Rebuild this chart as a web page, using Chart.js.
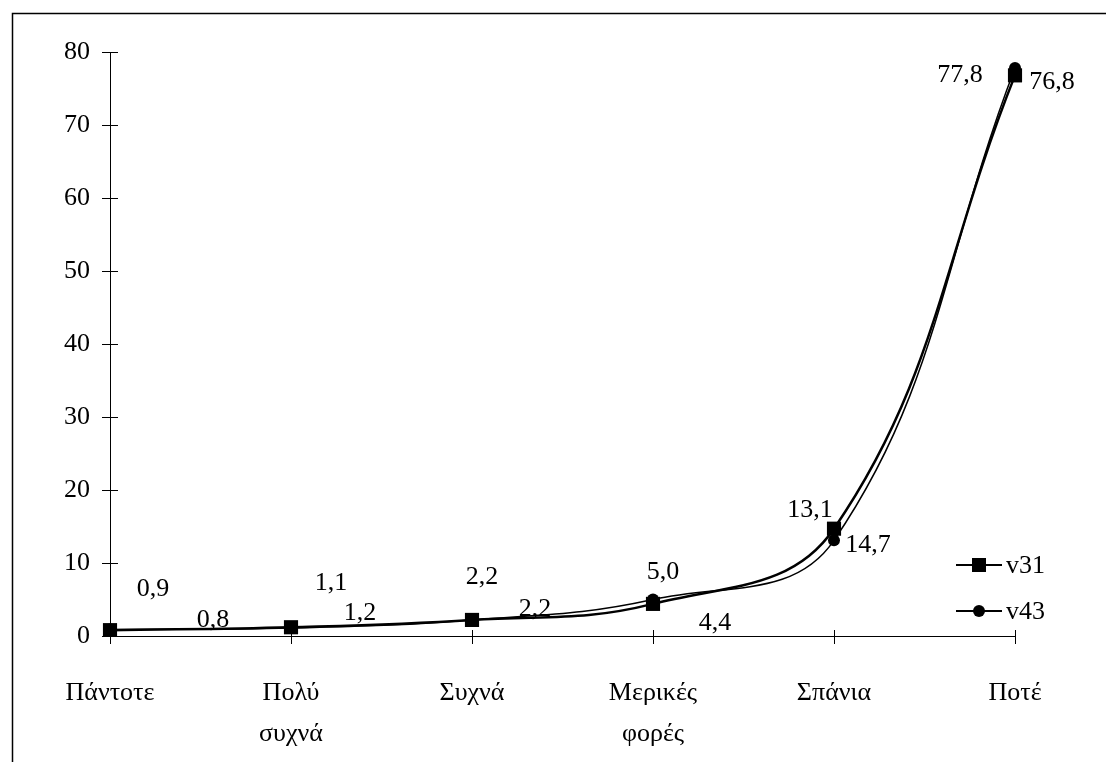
<!DOCTYPE html>
<html><head><meta charset="utf-8">
<script src="https://cdn.jsdelivr.net/npm/chart.js@4/dist/chart.umd.min.js"></script>
<style>html,body{margin:0;padding:0;background:#fff;}#wrap{width:1106px;height:762px;position:relative;}</style>
</head><body><div id="wrap"><canvas id="c" width="1106" height="762"></canvas></div>
<script>
const categories = [['Πάντοτε'], ['Πολύ', 'συχνά'], ['Συχνά'], ['Μερικές', 'φορές'], ['Σπάνια'], ['Ποτέ']];
const seriesNames = ['v31', 'v43'];
const v31 = [0.8, 1.2, 2.2, 4.4, 14.7, 76.8];
const v43 = [0.9, 1.1, 2.2, 5.0, 13.1, 77.8];
const yMin = 0, yMax = 80, yStep = 10;

const FONT = "'Liberation Serif', 'DejaVu Serif', serif";
const fmt = v => v.toFixed(1).replace('.', ',');

// label offsets (pixels) relative to each point — styling only
const labelOffsets = {
  v31: [[103, -10], [69, -14], [63, -11], [62, 19], [34, 16], [37, 7]],
  v43: [[43, -40], [40, -45], [10, -43], [10, -27], [-24, -30], [-55, 7]]
};

const frame = {
  id: 'frame',
  beforeDraw(chart) {
    const ctx = chart.ctx;
    ctx.save();
    ctx.fillStyle = '#fff';
    ctx.fillRect(0, 0, chart.width, chart.height);
    ctx.strokeStyle = '#000';
    ctx.lineWidth = 1.5;
    ctx.strokeRect(12.5, 13.5, 1300, 1000);
    ctx.restore();
  },
  afterDraw(chart) {
    const ctx = chart.ctx;
    const ys = chart.scales.y, xs = chart.scales.x;
    ctx.save();
    ctx.strokeStyle = '#000';
    ctx.lineWidth = 1;
    ys.ticks.forEach((t, i) => {
      const y = Math.round(ys.getPixelForTick(i)) + 0.5;
      ctx.beginPath(); ctx.moveTo(xs.left, y); ctx.lineTo(xs.left + 8, y); ctx.stroke();
    });
    xs.ticks.forEach((t, i) => {
      const x = Math.round(xs.getPixelForTick(i)) + 0.5;
      ctx.beginPath(); ctx.moveTo(x, ys.bottom); ctx.lineTo(x, ys.bottom - 6); ctx.stroke();
    });
    ctx.restore();
  }
};

const dataLabels = {
  id: 'dataLabels',
  afterDatasetsDraw(chart) {
    const ctx = chart.ctx;
    ctx.save();
    ctx.font = "26px " + FONT;
    ctx.fillStyle = '#000';
    ctx.textAlign = 'center';
    ctx.textBaseline = 'middle';
    chart.data.datasets.forEach((ds, di) => {
      const meta = chart.getDatasetMeta(di);
      const offs = labelOffsets[ds.label];
      meta.data.forEach((pt, i) => {
        const o = offs[i];
        ctx.fillText(fmt(ds.data[i]), pt.x + o[0], pt.y + o[1]);
      });
    });
    ctx.restore();
  }
};

const customLegend = {
  id: 'customLegend',
  afterDraw(chart) {
    const ctx = chart.ctx;
    ctx.save();
    ctx.font = "26px " + FONT;
    ctx.fillStyle = '#000';
    ctx.textBaseline = 'middle';
    ctx.textAlign = 'left';
    chart.data.datasets.forEach((ds, di) => {
      const y = 565 + di * 46;
      ctx.strokeStyle = '#000';
      ctx.lineWidth = 2;
      ctx.beginPath(); ctx.moveTo(956, y); ctx.lineTo(1002, y); ctx.stroke();
      ctx.fillStyle = '#000';
      if (ds.pointStyle === 'rect') {
        ctx.fillRect(972, y - 7, 14, 14);
      } else {
        ctx.beginPath(); ctx.arc(979, y, 6, 0, Math.PI * 2); ctx.fill();
      }
      ctx.fillText(ds.label, 1006, y + 1);
    });
    ctx.restore();
  }
};

new Chart(document.getElementById('c'), {
  type: 'line',
  data: {
    labels: categories,
    datasets: [
      {
        label: seriesNames[0], data: v31,
        borderColor: '#000', backgroundColor: '#000', borderWidth: 2.5,
        pointStyle: 'rect', pointRadius: 10, pointBorderWidth: 0,
        tension: 0.4, fill: false
      },
      {
        label: seriesNames[1], data: v43,
        borderColor: '#000', backgroundColor: '#000', borderWidth: 1.5,
        pointStyle: 'circle', pointRadius: 6, pointBorderWidth: 0,
        tension: 0.4, fill: false
      }
    ]
  },
  options: {
    responsive: false,
    animation: false,
    layout: { padding: { top: 52, right: 91, left: 0, bottom: 0 } },
    plugins: { legend: { display: false }, tooltip: { enabled: false } },
    scales: {
      x: {
        type: 'category',
        offset: false,
        grid: { drawOnChartArea: false, color: '#000', tickLength: 8 },
        border: { color: '#000', width: 1 },
        ticks: {
          color: '#000', font: { family: FONT, size: 26, lineHeight: 1.6 },
          padding: 28, maxRotation: 0, autoSkip: false
        },
        afterFit(s) { s.height = 126; }
      },
      y: {
        min: yMin, max: yMax,
        grid: { drawOnChartArea: false, color: '#000', tickLength: 8 },
        border: { color: '#000', width: 1 },
        ticks: { stepSize: yStep, color: '#000', font: { family: FONT, size: 26 }, padding: 12 },
        afterFit(s) { s.width = 110; }
      }
    }
  },
  plugins: [frame, dataLabels, customLegend]
});
</script>
</body></html>
